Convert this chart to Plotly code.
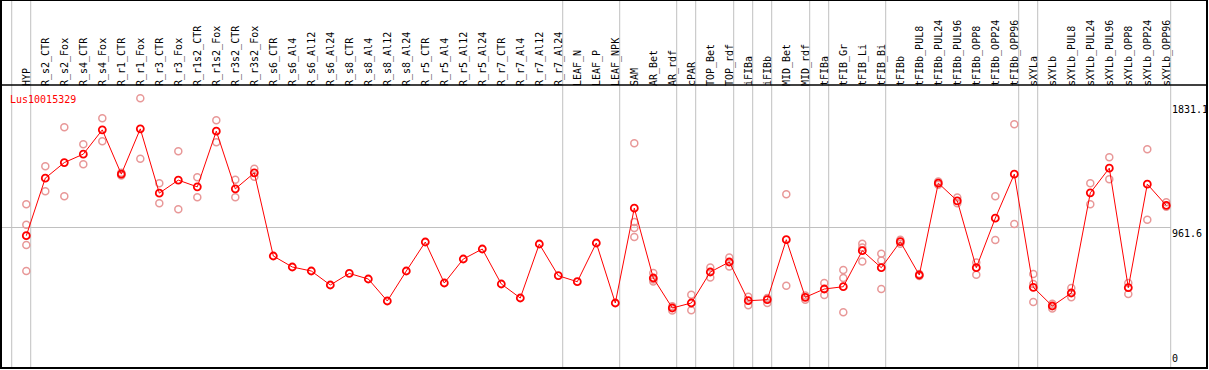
import plotly.graph_objects as go

categories = ["HYP", "R_s2_CTR", "R_s2_Fox", "R_s4_CTR", "R_s4_Fox", "R_r1_CTR", "R_r1_Fox",
              "R_r3_CTR", "R_r3_Fox", "R_r1s2_CTR", "R_r1s2_Fox", "R_r3s2_CTR", "R_r3s2_Fox",
              "R_s6_CTR", "R_s6_Al4", "R_s6_Al12", "R_s6_Al24", "R_s8_CTR", "R_s8_Al4", "R_s8_Al12",
              "R_s8_Al24", "R_r5_CTR", "R_r5_Al4", "R_r5_Al12", "R_r5_Al24", "R_r7_CTR", "R_r7_Al4",
              "R_r7_Al12", "R_r7_Al24", "LEAF_N", "LEAF_P", "LEAF_NPK", "SAM", "AR_Bet", "AR_rdf",
              "cPAR", "TOP_Bet", "TOP_rdf", "iFIBa", "iFIBb", "MID_Bet", "MID_rdf", "tFIBa",
              "tFIB_Gr", "tFIB_Li", "tFIB_Bi", "tFIBb", "tFIBb_PUL8", "tFIBb_PUL24", "tFIBb_PUL96",
              "tFIBb_OPP8", "tFIBb_OPP24", "tFIBb_OPP96", "sXYLa", "sXYLb", "sXYLb_PUL8",
              "sXYLb_PUL24", "sXYLb_PUL96", "sXYLb_OPP8", "sXYLb_OPP24", "sXYLb_OPP96"]

means = [904, 1307, 1416, 1475, 1645, 1335, 1652, 1202, 1293, 1246, 1636, 1232, 1344,
         762, 685, 657, 559, 640, 601, 447, 657, 860, 573, 741, 811, 566, 468, 846, 624,
         582, 853, 433, 1097, 608, 398, 433, 650, 720, 449, 456, 876, 473, 531, 547, 799,
         680, 862, 629, 1272, 1148, 680, 1027, 1335, 543, 412, 503, 1204, 1377, 540, 1265, 1116]

replicates = [[1125, 981, 839, 657], [1391, 1216], [1664, 1181], [1545, 1405], [1727, 1566],
              [1345, 1325], [1866, 1442], [1272, 1132], [1496, 1090], [1314, 1174], [1713, 1559],
              [1295, 1174], [1372, 1316],
              [], [], [], [], [], [], [], [], [], [], [], [], [], [], [], [], [], [], [],
              [1552, 1000, 958, 895], [643, 598, 584], [410, 380], [491, 382], [682, 612],
              [752, 689], [477, 417], [468, 433], [1195, 554], [486, 456], [573, 489],
              [664, 608, 368], [848, 822, 724], [778, 731, 531], [875, 848], [636, 622],
              [1283, 1260], [1172, 1132], [717, 631], [1181, 874], [1685, 986],
              [636, 566, 440], [428, 394], [538, 473], [1272, 1125], [1454, 1300],
              [573, 496], [1510, 1016], [1139, 1107]]

# separators drawn after these categories (None = before the first)
separators_after = [None, "HYP", "R_r7_Al24", "LEAF_NPK", "AR_rdf", "cPAR", "TOP_rdf", "iFIBa",
                    "iFIBb", "MID_rdf", "tFIBa", "tFIB_Bi", "tFIBb_OPP96", "sXYLa", "sXYLb_OPP96"]

gene_name = "Lus10015329"
ref_values = [1831.1, 961.6, 0]
ref_labels = ["1831.1", "961.6", "0"]
hline_value = 961.6

W, H = 1209, 370
ML, MR, MT, MB = 1, 2, 85, 2
plot_w = W - ML - MR
plot_h = H - MT - MB

xs = list(range(len(categories)))
rep_x, rep_y = [], []
for i, reps in enumerate(replicates):
    for v in reps:
        rep_x.append(i)
        rep_y.append(v)

MONO = "DejaVu Sans Mono"

fig = go.Figure()
fig.add_trace(go.Scatter(
    x=rep_x, y=rep_y, mode="markers",
    marker=dict(symbol="circle-open", size=7, color="#e89898", line=dict(width=1.5, color="#e89898")),
    showlegend=False, hoverinfo="y"))
fig.add_trace(go.Scatter(
    x=xs, y=means, mode="lines+markers",
    line=dict(color="#ff0000", width=1),
    marker=dict(symbol="circle-open", size=7, color="#ff0000", line=dict(width=1.8, color="#ff0000")),
    showlegend=False, hoverinfo="y"))

shapes = []
top_paper = 1 + MT / plot_h
offset = 4.4 / 19.0
for name in separators_after:
    idx = -1 if name is None else categories.index(name)
    shapes.append(dict(type="line", xref="x", yref="paper", x0=idx + offset, x1=idx + offset,
                       y0=0, y1=top_paper, line=dict(color="#c0c0c0", width=1), layer="below"))
shapes.append(dict(type="line", xref="paper", yref="y", x0=0, x1=(1171 - ML) / plot_w,
                   y0=hline_value, y1=hline_value, line=dict(color="#c0c0c0", width=1), layer="below"))
# frame
shapes.append(dict(type="rect", xref="paper", yref="paper", x0=0, x1=1, y0=0, y1=top_paper,
                   line=dict(color="black", width=2)))
shapes.append(dict(type="line", xref="paper", yref="paper", x0=0, x1=1, y0=1, y1=1,
                   line=dict(color="black", width=1.5)))

annotations = [dict(text=gene_name, xref="paper", yref="paper", x=(8 - ML) / plot_w, y=1 - 7 / plot_h,
                    xanchor="left", yanchor="top", showarrow=False,
                    font=dict(family=MONO, size=10, color="#ff0000"))]
for v, lab in zip(ref_values, ref_labels):
    annotations.append(dict(text=lab, xref="paper", yref="y", x=(1171 - ML) / plot_w, y=v,
                            xanchor="left", yanchor="bottom" if v == 0 else "top", showarrow=False,
                            borderpad=0, font=dict(family=MONO, size=10, color="black")))

fig.update_layout(
    width=W, height=H, template="none",
    margin=dict(l=ML, r=MR, t=MT, b=MB, pad=0),
    paper_bgcolor="white", plot_bgcolor="white",
    xaxis=dict(range=[-1.332, 62.142], tickmode="array", tickvals=xs, ticktext=categories,
               side="top", tickangle=-90, ticks="", showgrid=False, zeroline=False,
               showline=False, automargin=False, ticklabelstandoff=-2,
               tickfont=dict(family=MONO, size=10, color="black")),
    yaxis=dict(range=[-22, 1959], showticklabels=False, ticks="", showgrid=False,
               zeroline=False, showline=False, automargin=False),
    shapes=shapes, annotations=annotations, hovermode="closest",
)

fig.write_html("out.html", config={"displayModeBar": False},
               post_script="document.body.style.margin='0';document.body.style.padding='0';"
                           "document.body.style.overflow='hidden';")
